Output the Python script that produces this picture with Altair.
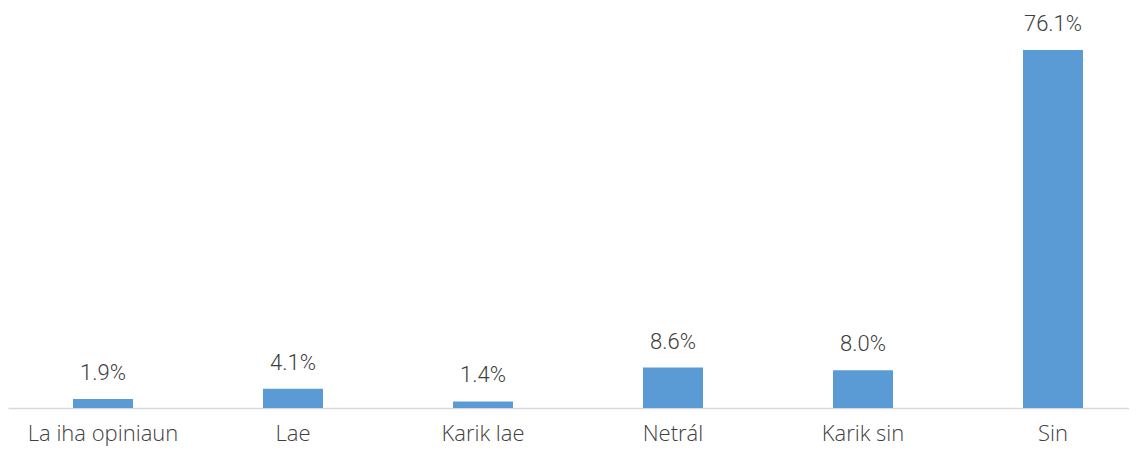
import altair as alt
import pandas as pd

categories = ["La iha opiniaun", "Lae", "Karik lae", "Netrál", "Karik sin", "Sin"]
values = [1.9, 4.1, 1.4, 8.6, 8.0, 76.1]

df = pd.DataFrame({"cat": categories, "val": values})

x = alt.X("cat:N", sort=categories, title=None,
          scale=alt.Scale(range=[0, 1140], paddingInner=0, paddingOuter=0),
          axis=alt.Axis(labelAngle=0, ticks=False, domainColor="#D9D9D9", domainWidth=1.5,
                        labelFont="Open Sans", labelFontSize=22, labelFontWeight=300,
                        labelColor="#404040", labelPadding=15, grid=False))
y = alt.Y("val:Q", title=None, scale=alt.Scale(domain=[0, 85], nice=False),
          axis=None)

base = alt.Chart(df).encode(x=x, y=y)
bars = base.mark_bar(size=60, color="#5B9BD5")
labels = base.transform_calculate(lbl="format(datum.val, '.1f') + '%'").mark_text(
    baseline="bottom", dy=-14, font="Roboto Light", fontSize=22, fontWeight=300, color="#404040"
).encode(text="lbl:N")

chart = (bars + labels).properties(
    width=1121, height=400,
    padding={"left": 0, "top": 0, "right": 0, "bottom": 38},
    autosize=alt.AutoSizeParams(type="none")
).configure_view(stroke=None)

chart.save("out.html", embed_options={"renderer": "svg", "actions": False})
